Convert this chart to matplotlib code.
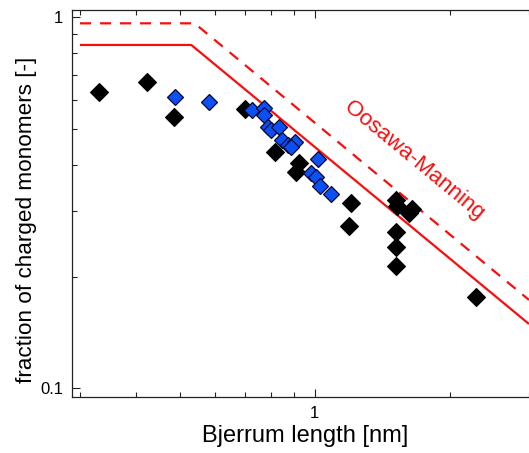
import matplotlib
matplotlib.use("Agg")
import matplotlib.pyplot as plt
from matplotlib.ticker import LogLocator, FuncFormatter, NullFormatter

plt.rcParams['font.family'] = ['Liberation Sans', 'DejaVu Sans']

# Simulation / experiment points (black)
black_x = [0.331, 0.422, 0.486, 0.698, 0.815, 0.924, 0.910, 1.206, 1.194,
           1.516, 1.528, 1.648, 1.623, 1.516, 1.516, 1.516, 2.283]
black_y = [0.630, 0.668, 0.540, 0.567, 0.433, 0.405, 0.382, 0.316, 0.273,
           0.322, 0.309, 0.305, 0.296, 0.263, 0.241, 0.214, 0.176]

# Second data set (blue)
blue_x = [0.488, 0.580, 0.723, 0.769, 0.771, 0.788, 0.797, 0.833, 0.847,
          0.871, 0.903, 0.884, 1.016, 0.981, 1.007, 1.029, 1.087]
blue_y = [0.611, 0.590, 0.561, 0.568, 0.545, 0.507, 0.497, 0.507, 0.467,
          0.453, 0.462, 0.447, 0.414, 0.380, 0.372, 0.350, 0.333]

# Oosawa-Manning lines
om_solid_x = [0.30, 0.531, 3.0]
om_solid_y = [0.842, 0.842, 0.149]
om_dash_x = [0.30, 0.540, 3.0]
om_dash_y = [0.963, 0.963, 0.173]

xlabel = "Bjerrum length [nm]"
ylabel = "fraction of charged monomers [-]"
line_label = "Oosawa-Manning"

fig = plt.figure(figsize=(5.29, 4.53), dpi=100)
ax = fig.add_axes([72/529, 56.5/453, 457/529, 386.5/453])
ax.set_xscale('log')
ax.set_yscale('log')

red = '#fa0d0d'
ax.plot(om_solid_x, om_solid_y, color=red, lw=1.6, solid_capstyle='butt')
ax.plot(om_dash_x, om_dash_y, color=red, lw=1.6, linestyle=(0, (5.0, 4.0)))

ax.plot(black_x, black_y, linestyle='none', marker='D', ms=8.8,
        mfc='black', mec='black', mew=0.8)
ax.plot(blue_x, blue_y, linestyle='none', marker='D', ms=8.5,
        mfc='#0a50f5', mec='#0a0a30', mew=0.9)

ax.text(1.664, 0.412, line_label, color=red, fontsize=16, rotation=-39.5,
        ha='center', va='center', rotation_mode='anchor')

ax.set_xlim(0.288, 3.0)
ax.set_ylim(0.0950, 1.046)

ax.xaxis.set_major_locator(LogLocator(base=10))
ax.xaxis.set_minor_locator(LogLocator(base=10, subs=range(2, 10)))
ax.yaxis.set_major_locator(LogLocator(base=10))
ax.yaxis.set_minor_locator(LogLocator(base=10, subs=range(2, 10)))
fmt = FuncFormatter(lambda v, p: f"{v:g}")
ax.xaxis.set_major_formatter(fmt)
ax.yaxis.set_major_formatter(fmt)
ax.xaxis.set_minor_formatter(NullFormatter())
ax.yaxis.set_minor_formatter(NullFormatter())

ax.tick_params(which='both', direction='in', top=True, right=False,
               width=0.8, colors='#222222', labelcolor='black', labelsize=12)
ax.tick_params(which='major', length=6, pad=6.5)
ax.tick_params(which='minor', length=3.6)
ax.spines['right'].set_visible(False)
for s in ['left', 'bottom', 'top']:
    ax.spines[s].set_linewidth(0.9)
    ax.spines[s].set_color('#222222')

ax.set_xlabel(xlabel, fontsize=17)
ax.set_ylabel(ylabel, fontsize=16.2)
ax.xaxis.set_label_coords(0.51, -0.075)
ax.yaxis.set_label_coords(-0.076, 0.458)

fig.savefig("out.png", dpi=100)
